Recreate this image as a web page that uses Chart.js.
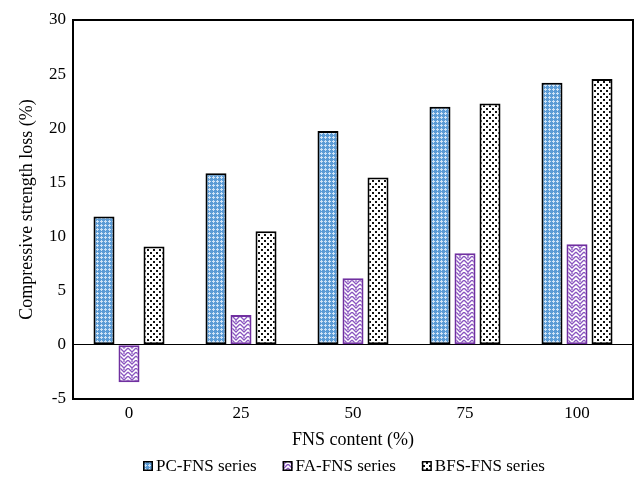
<!DOCTYPE html>
<html>
<head>
<meta charset="utf-8">
<script src="https://cdn.jsdelivr.net/npm/chart.js@4.4.1/dist/chart.umd.min.js"></script>
<style>
html,body{margin:0;padding:0;background:#fff;}
#wrap{width:638px;height:483px;position:relative;}
</style>
</head>
<body>
<div id="wrap"><canvas id="c" width="638" height="483"></canvas></div>
<script>
const categories = ['0', '25', '50', '75', '100'];
const pcFns = [11.85, 15.85, 19.76, 22.0, 24.2];
const faFns = [-3.45, 2.75, 6.15, 8.45, 9.3];
const bfsFns = [9.08, 10.5, 15.45, 22.3, 24.55];
const seriesNames = ['PC-FNS series', 'FA-FNS series', 'BFS-FNS series'];
const yTicks = [-5, 0, 5, 10, 15, 20, 25, 30];

function makePattern(size, draw) {
  const cv = document.createElement('canvas');
  cv.width = size; cv.height = size;
  const g = cv.getContext('2d');
  draw(g, size);
  return document.getElementById('c').getContext('2d').createPattern(cv, 'repeat');
}
const pcPattern = makePattern(4, (g) => {
  g.fillStyle = '#5b9bd5'; g.fillRect(0, 0, 4, 4);
  g.fillStyle = '#cfe3f6';
  g.fillRect(1, 0, 1, 3); g.fillRect(0, 1, 3, 1);
});
const faPattern = makePattern(8, (g) => {
  g.fillStyle = '#ffffff'; g.fillRect(0, 0, 8, 8);
  g.strokeStyle = '#8a55c0'; g.lineWidth = 1.3;
  g.beginPath();
  g.moveTo(0, 0); g.lineTo(4, 4); g.lineTo(8, 0);
  g.moveTo(0, 4); g.lineTo(4, 8); g.lineTo(8, 4);
  g.moveTo(4, 0); g.lineTo(4, 2);
  g.stroke();
});
const bfsPattern = makePattern(6, (g) => {
  g.fillStyle = '#ffffff'; g.fillRect(0, 0, 6, 6);
  g.fillStyle = '#111111';
  g.fillRect(0, 0, 2, 2); g.fillRect(3, 3, 2, 2);
});
const seriesFills = [pcPattern, faPattern, bfsPattern];
const seriesBorders = ['#000000', '#7030a0', '#000000'];

const font = 'Liberation Serif, Times New Roman, serif';

const framePlugin = {
  id: 'frame',
  afterDatasetsDraw(chart) {
    const a = chart.chartArea, ctx = chart.ctx;
    ctx.save();
    ctx.strokeStyle = '#000'; ctx.lineWidth = 2;
    ctx.strokeRect(a.left, a.top, a.right - a.left, a.bottom - a.top);
    ctx.restore();
  }
};

// legend drawn below the x-axis title
const legendPlugin = {
  id: 'bottomLegend',
  afterDraw(chart) {
    const ctx = chart.ctx;
    ctx.save();
    ctx.font = '17px ' + font;
    ctx.textBaseline = 'middle';
    ctx.fillStyle = '#000';
    const y = 466, box = 10, gapText = 3, gapItem = 26;
    let x = 143;
    chart.data.datasets.forEach((ds, i) => {
      ctx.fillStyle = ds.backgroundColor;
      ctx.fillRect(x, y - box / 2, box, box);
      ctx.strokeStyle = '#000'; ctx.lineWidth = 1.5;
      ctx.strokeRect(x + 0.75, y - box / 2 + 0.75, box - 1.5, box - 1.5);
      ctx.fillStyle = '#000';
      ctx.fillText(ds.label, x + box + gapText, y + 1);
      x += box + gapText + ctx.measureText(ds.label).width + gapItem;
    });
    ctx.restore();
  }
};

new Chart(document.getElementById('c'), {
  type: 'bar',
  data: {
    labels: categories,
    datasets: [
      { label: seriesNames[0], data: pcFns, backgroundColor: seriesFills[0], borderColor: seriesBorders[0], borderWidth: 2, borderSkipped: false },
      { label: seriesNames[1], data: faFns, backgroundColor: seriesFills[1], borderColor: seriesBorders[1], borderWidth: 2, borderSkipped: false },
      { label: seriesNames[2], data: bfsFns, backgroundColor: seriesFills[2], borderColor: seriesBorders[2], borderWidth: 2, borderSkipped: false }
    ]
  },
  options: {
    responsive: false,
    animation: false,
    devicePixelRatio: 1,
    layout: { padding: { left: 0, right: 5, top: 20, bottom: 32 } },
    datasets: { bar: { categoryPercentage: 0.67, barPercentage: 0.84 } },
    plugins: {
      tooltip: { enabled: false },
      legend: { display: false }
    },
    scales: {
      x: {
        grid: { display: false, drawTicks: false },
        border: { display: false },
        ticks: { font: { family: font, size: 17 }, color: '#000', padding: 4 },
        title: { display: true, text: 'FNS content (%)', font: { family: font, size: 18 }, color: '#000', padding: { top: 2, bottom: 0 } }
      },
      y: {
        min: -5, max: 30,
        afterFit(s) { s.width = 73; },
        afterBuildTicks(s) { s.ticks = yTicks.map(v => ({ value: v })); },
        grid: { drawTicks: false, lineWidth: 1, color: (ctx) => ctx.tick && ctx.tick.value === 0 ? '#000' : 'rgba(0,0,0,0)' },
        border: { display: false },
        ticks: { font: { family: font, size: 17 }, color: '#000', padding: 7 },
        title: { display: true, text: 'Compressive strength loss (%)', font: { family: font, size: 18 }, color: '#000', padding: { top: 16, bottom: 0 } }
      }
    }
  },
  plugins: [framePlugin, legendPlugin]
});
</script>
</body>
</html>
